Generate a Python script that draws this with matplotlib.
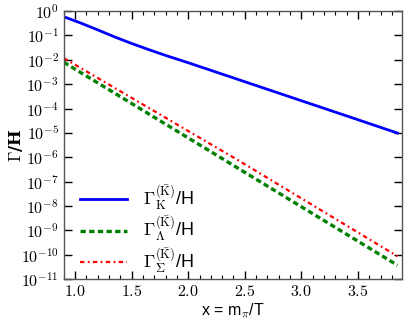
import numpy as np
import matplotlib
matplotlib.use("Agg")
import matplotlib.pyplot as plt
from matplotlib.ticker import FixedLocator, MultipleLocator, FuncFormatter

plt.rcParams["font.family"] = ["Liberation Sans", "DejaVu Sans"]
plt.rcParams["mathtext.fontset"] = "cm"

# ── Data (log10 of Gamma/H) ──────────────────────────────────────────────────
x_kaon = [0.9, 1.05, 1.2, 1.35, 1.5, 1.65, 1.8, 2.0, 2.5, 3.0, 3.5, 3.85]
log_kaon = [-0.23, -0.49, -0.77, -1.06, -1.33, -1.58, -1.82, -2.12,
            -2.90, -3.68, -4.46, -5.01]

x_lambda = [0.9, 2.45, 3.85]
log_lambda = [-2.10, -6.48, -10.44]

x_sigma = [0.9, 2.45, 3.85]
log_sigma = [-1.93, -6.15, -10.07]

labels = [r"$\Gamma_{\mathrm{K}}^{(\bar{\mathrm{K}})}$/H",
          r"$\Gamma_{\Lambda}^{(\bar{\mathrm{K}})}$/H",
          r"$\Gamma_{\Sigma}^{(\bar{\mathrm{K}})}$/H"]

y_exponents = list(range(-11, 1))
x_ticks = [1.0, 1.5, 2.0, 2.5, 3.0, 3.5]

# ── Figure ────────────────────────────────────────────────────────────────────
fig = plt.figure(figsize=(4.09, 3.27), dpi=100)
ax = fig.add_axes([0.156, 0.147, 0.827, 0.819])

ax.plot(x_kaon, 10.0 ** np.array(log_kaon), color="#0000ff", lw=2.0,
        label=labels[0])
ax.plot(x_lambda, 10.0 ** np.array(log_lambda), color="#008000", lw=2.4,
        ls=(0, (1.6, 1.0)), label=labels[1])
ax.plot(x_sigma, 10.0 ** np.array(log_sigma), color="#ff0000", lw=1.6,
        ls=(0, (2.0, 1.5, 0.8, 1.5)), label=labels[2])

ax.set_yscale("log")
ax.set_ylim(1e-11, 1.0)
ax.set_xlim(0.9, 3.89)

ax.yaxis.set_major_locator(FixedLocator([10.0 ** e for e in y_exponents]))
ax.yaxis.set_minor_locator(FixedLocator([]))
ax.yaxis.set_major_formatter(
    FuncFormatter(lambda v, p: r"$10^{%d}$" % round(np.log10(v))))
ax.xaxis.set_major_locator(FixedLocator(x_ticks))
ax.xaxis.set_minor_locator(MultipleLocator(0.1))
ax.xaxis.set_major_formatter(FuncFormatter(lambda v, p: r"$%.1f$" % v))

ax.tick_params(which="both", direction="in", top=True, right=True,
               labelsize=11.5, color="black")
ax.tick_params(which="major", length=6, width=1.0)
ax.tick_params(which="minor", length=3, width=0.8)
for s in ax.spines.values():
    s.set_color("#555555")
    s.set_linewidth(1.0)

ax.set_xlabel(r"x = m$_\pi$/T", fontsize=11.5, labelpad=2)
ax.set_ylabel(r"$\mathbf{\Gamma}$/H", fontsize=12, fontweight="bold",
              family="DejaVu Serif")
ax.yaxis.set_label_coords(-0.115, 0.5)

ax.legend(loc="lower left", bbox_to_anchor=(0.0, -0.045), frameon=False,
          fontsize=13, handlelength=2.6, handletextpad=0.9,
          labelspacing=0.15)

fig.savefig("out.png", dpi=100)
